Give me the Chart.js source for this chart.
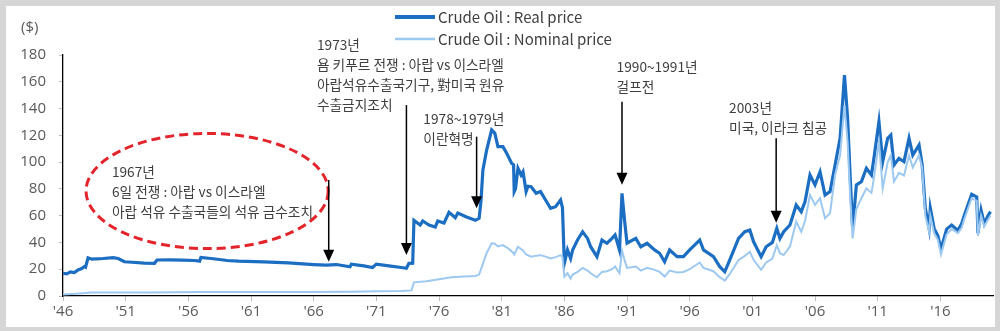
<!DOCTYPE html>
<html>
<head>
<meta charset="utf-8">
<script src="https://cdn.jsdelivr.net/npm/chart.js@4.4.1/dist/chart.umd.min.js"></script>
<style>
html,body{margin:0;padding:0;background:#d6d6d6;}
canvas{display:block;}
</style>
</head>
<body>
<canvas id="c" width="1000" height="331"></canvas>
<script>
// ---- DATA ----
const xTickYears = [1946,1951,1956,1961,1966,1971,1976,1981,1986,1991,1996,2001,2006,2011,2016];
const yTicks = [0,20,40,60,80,100,120,140,160,180];

const realYears = [1946.0,1946.3,1946.6,1946.9,1947.2,1947.5,1947.7,1947.8,1948.0,1948.3,1948.7,1949.2,1950.0,1950.4,1950.9,1951.5,1952.5,1953.3,1953.5,1954.5,1955.5,1956.5,1956.9,1957.0,1958.0,1959.1,1960.0,1962.0,1964.0,1966.0,1967.0,1967.8,1968.9,1969.0,1970.0,1970.7,1971.0,1972.0,1973.0,1973.4,1973.6,1973.9,1974.0,1974.5,1974.7,1975.2,1975.7,1975.9,1976.4,1976.8,1977.3,1977.5,1978.2,1978.9,1979.2,1979.35,1979.5,1979.8,1980.2,1980.45,1980.7,1981.1,1981.4,1981.8,1981.95,1982.0,1982.1,1982.3,1982.55,1982.7,1982.95,1983.1,1983.35,1983.75,1984.1,1984.5,1984.9,1985.3,1985.7,1985.85,1986.0,1986.25,1986.5,1986.66,1987.06,1987.46,1987.85,1988.1,1988.6,1989.0,1989.4,1989.8,1990.05,1990.4,1990.6,1990.8,1991.0,1991.7,1992.1,1992.6,1993.2,1993.6,1994.0,1994.4,1995.0,1995.5,1996.0,1996.8,1997.1,1997.9,1998.4,1998.8,1999.2,1999.9,2000.4,2000.8,2001.1,2001.7,2002.1,2002.6,2002.95,2003.2,2003.5,2004.0,2004.5,2004.9,2005.2,2005.6,2006.0,2006.4,2006.8,2007.2,2007.6,2008.0,2008.35,2008.6,2008.8,2009.0,2009.3,2009.7,2010.1,2010.5,2010.7,2011.1,2011.4,2011.8,2012.05,2012.3,2012.7,2013.1,2013.5,2013.8,2014.3,2014.55,2014.8,2015.1,2015.2,2015.5,2015.8,2016.05,2016.5,2016.9,2017.4,2017.7,2017.9,2018.5,2018.9,2019.0,2019.25,2019.5,2019.8,2020.0];
const realValues = [17,16.5,18,17.5,19.5,20.5,22,21.5,28.5,27.5,27.8,28,28.6,28,25.6,25.2,24.5,24.4,26.9,27,26.8,26.5,26,28.8,27.8,26.5,26,25.5,24.8,23.5,23,23.5,21.8,23.8,22.5,21.3,23.8,22.5,21.3,20.7,24.4,24.5,56.5,53,56,53,51.5,56,54.5,62.5,58.5,62,59,56.5,58,71,94,109,124,121.7,111.5,111.5,106.6,99,98,78,80,95.4,90.4,92.8,78,82,81.6,76.7,78,71.7,65.5,66.7,71.7,66,24.4,34.4,28,34.4,42,48,43,36.8,29.4,41.8,39.4,43,45.6,34.4,76.7,56.8,39.4,43,36.8,39.4,34.4,31.9,25.6,34.4,29.4,29.4,34.4,41.8,34.4,29.4,21.9,18.1,26.9,43,48,49.3,40.5,29.4,36.8,40,50.5,43,48,53,68,63,70.4,90.4,83,92.8,75.4,78,97.8,117.8,165,132.7,90.4,50.5,83,85.4,95.4,90.4,102.8,130.2,100.3,117.8,120.2,97.8,102.8,100.3,117.8,105.3,112.8,97.8,65.5,50.5,65.5,50.5,45,35,50,53,49,54,60,76,74,47,64,54,60,63];

const nomYears = [1946.0,1947.0,1947.8,1948.2,1953.0,1957.0,1965.0,1969.0,1971.0,1973.0,1973.8,1974.0,1975.0,1976.0,1977.0,1978.0,1978.9,1979.2,1979.5,1979.8,1980.2,1980.45,1980.7,1981.1,1981.6,1981.95,1982.0,1982.3,1982.7,1982.95,1983.35,1983.75,1984.1,1984.5,1984.9,1985.3,1985.7,1985.85,1986.0,1986.25,1986.5,1986.66,1987.06,1987.46,1987.85,1988.1,1988.6,1989.0,1989.4,1989.8,1990.05,1990.4,1990.6,1990.8,1991.0,1991.7,1992.1,1992.6,1993.2,1993.6,1994.0,1994.4,1995.0,1995.5,1996.0,1996.8,1997.1,1997.9,1998.4,1998.8,1999.2,1999.9,2000.4,2000.8,2001.1,2001.7,2002.1,2002.6,2002.95,2003.2,2003.5,2004.0,2004.5,2004.9,2005.2,2005.6,2006.0,2006.4,2006.8,2007.2,2007.6,2008.0,2008.35,2008.6,2008.8,2009.0,2009.3,2009.7,2010.1,2010.5,2010.7,2011.1,2011.4,2011.8,2012.05,2012.3,2012.7,2013.1,2013.5,2013.8,2014.3,2014.55,2014.8,2015.1,2015.2,2015.5,2015.8,2016.05,2016.5,2016.9,2017.4,2017.7,2017.9,2018.5,2018.9,2019.0,2019.25,2019.5,2019.8,2020.0];
const nomValues = [1.2,1.6,2.2,2.6,2.7,3.0,3.0,3.2,3.5,3.7,4.2,10.2,11,12.5,14,14.5,15,16,24,32,39.4,39,37,38,35,32,31,36.8,34,31,29.4,30,30.5,29.4,28,29,30.5,29,14.4,17,13,16,18,21,19,17,14,18,18.5,20,22,17,34,27,21,22,19,21,19.5,18,14.5,19,17.5,18,20,25,21,18.5,14,11.5,16.5,27,30,33,27,19.5,25,28,38,32,30.6,37,55.5,48,56,75.4,68,73,58,62,90.4,105,142.6,115,75,43,65,73,80.4,77,88,115,80.4,100,105,85.4,92,90,105,96,105,95.6,60,48,60,47,42,31,46,50,47,51,57,73,71,45,60,52,57,60];

const seriesLabels = ['Crude Oil : Real price', 'Crude Oil : Nominal price'];

// annotations (data coordinates)
const arrowYears = [1967.2, 1973.4, 1979.0, 1990.6, 2002.9];
const arrowTops  = [86.6, 142.6, 119, 145, 117.8];
const arrowTips  = [25.6, 30.6, 65.5, 83, 54.7];

const noteYears  = [1949.9, 1966.26, 1974.75, 1990.17, 1999.14];
const noteValues = [92.6, 187.5, 132.2, 171.0, 140.4];
const noteLines  = [
  ['1967년', '6일 전쟁 : 아랍 vs 이스라엘', '아랍 석유 수출국들의 석유 금수조치'],
  ['1973년', '욤 키푸르 전쟁 : 아랍 vs 이스라엘', '아랍석유수출국기구, 對미국 원유', '수출금지조치'],
  ['1978~1979년', '이란혁명'],
  ['1990~1991년', '걸프전'],
  ['2003년', '미국, 이라크 침공']
];
const ellipseCenter = {year: 1957.5, value: 78.4};
const ellipseRadius = {years: 9.66, value: 43};

// ---- STYLE ----
const REAL_COLOR = '#1b6ec2';
const NOM_COLOR = '#9dc9f1';
const TEXT_COLOR = '#3f3f3f';
const TICK_COLOR = '#595959';
const FONT = "'Noto Sans CJK KR', 'Noto Sans', sans-serif";

const pts = (xs, ys) => xs.map((x, i) => ({x: x, y: ys[i]}));

const decor = {
  id: 'decor',
  beforeDraw(chart) {
    const ctx = chart.ctx;
    ctx.save();
    ctx.fillStyle = '#d6d6d6';
    ctx.fillRect(0, 0, chart.width, chart.height);
    ctx.fillStyle = '#ffffff';
    ctx.fillRect(6, 6, 989, 321);
    ctx.restore();
  },
  afterDraw(chart) {
    const ctx = chart.ctx;
    const xs = chart.scales.x, ys = chart.scales.y;
    ctx.save();
    // y unit label
    ctx.fillStyle = TICK_COLOR;
    ctx.font = "15px 'Open Sans', sans-serif";
    ctx.textBaseline = 'middle';
    ctx.textAlign = 'left';
    ctx.fillText('($)', 21, 28);

    // legend
    const ds = chart.data.datasets;
    const legY = [17, 39];
    ds.forEach((d, i) => {
      ctx.strokeStyle = d.borderColor;
      ctx.lineWidth = i === 0 ? 4 : 2.5;
      ctx.beginPath();
      ctx.moveTo(395, legY[i]);
      ctx.lineTo(435, legY[i]);
      ctx.stroke();
      ctx.fillStyle = TEXT_COLOR;
      ctx.font = "15px " + FONT;
      ctx.fillText(d.label, 438, legY[i]);
    });

    // ellipse
    const cx = xs.getPixelForValue(ellipseCenter.year);
    const cy = ys.getPixelForValue(ellipseCenter.value);
    const rx = xs.getPixelForValue(ellipseCenter.year + ellipseRadius.years) - cx;
    const ry = cy - ys.getPixelForValue(ellipseCenter.value + ellipseRadius.value);
    ctx.strokeStyle = '#e3242b';
    ctx.lineWidth = 3;
    ctx.setLineDash([9, 5]);
    ctx.beginPath();
    ctx.ellipse(cx, cy, rx, ry, 0, 0, Math.PI * 2);
    ctx.stroke();
    ctx.setLineDash([]);

    // arrows
    ctx.strokeStyle = '#000';
    ctx.fillStyle = '#000';
    ctx.lineWidth = 1.5;
    arrowYears.forEach((yr, i) => {
      const x = xs.getPixelForValue(yr);
      const y0 = ys.getPixelForValue(arrowTops[i]);
      const y1 = ys.getPixelForValue(arrowTips[i]);
      ctx.beginPath();
      ctx.moveTo(x, y0);
      ctx.lineTo(x, y1 - 10);
      ctx.stroke();
      ctx.beginPath();
      ctx.moveTo(x - 5.5, y1 - 12);
      ctx.lineTo(x + 5.5, y1 - 12);
      ctx.lineTo(x, y1);
      ctx.closePath();
      ctx.fill();
    });

    // notes
    ctx.fillStyle = TEXT_COLOR;
    ctx.font = "13.7px " + FONT;
    ctx.textBaseline = 'middle';
    noteYears.forEach((yr, i) => {
      const x = xs.getPixelForValue(yr);
      const y = ys.getPixelForValue(noteValues[i]);
      noteLines[i].forEach((t, j) => ctx.fillText(t, x, y + j * 20));
    });
    ctx.restore();
  }
};

new Chart(document.getElementById('c'), {
  type: 'line',
  data: {
    datasets: [
      {label: seriesLabels[0], data: pts(realYears, realValues), borderColor: REAL_COLOR, borderWidth: 3.2, pointRadius: 0, tension: 0, order: 2},
      {label: seriesLabels[1], data: pts(nomYears, nomValues), borderColor: NOM_COLOR, borderWidth: 2, pointRadius: 0, tension: 0, order: 1}
    ]
  },
  options: {
    responsive: false,
    animation: false,
    events: [],
    layout: {padding: {left: 0, right: 7, top: 55, bottom: 0}},
    plugins: {legend: {display: false}, tooltip: {enabled: false}},
    scales: {
      x: {
        type: 'linear',
        min: 1946, max: 2020.2,
        afterBuildTicks: (s) => { s.ticks = xTickYears.map(v => ({value: v})); },
        afterFit: (s) => { s.height = 35; },
        border: {display: true, color: '#000', width: 1.3},
        grid: {display: true, drawOnChartArea: false, drawTicks: true, tickLength: 5, color: '#bfbfbf'},
        ticks: {
          color: TICK_COLOR, padding: 2, maxRotation: 0, autoSkip: false,
          font: {family: "'Open Sans', sans-serif", size: 15},
          callback: (v) => "'" + String(v).slice(2)
        }
      },
      y: {
        min: 0, max: 180,
        afterBuildTicks: (s) => { s.ticks = yTicks.map(v => ({value: v})); },
        afterFit: (s) => { s.width = 63; },
        border: {display: true, color: '#000', width: 1.3},
        grid: {display: true, drawOnChartArea: false, drawTicks: true, tickLength: 4, color: '#bfbfbf'},
        ticks: {
          color: TICK_COLOR, padding: 13,
          font: {family: "'Open Sans', sans-serif", size: 15}
        }
      }
    }
  },
  plugins: [decor]
});
</script>
</body>
</html>
